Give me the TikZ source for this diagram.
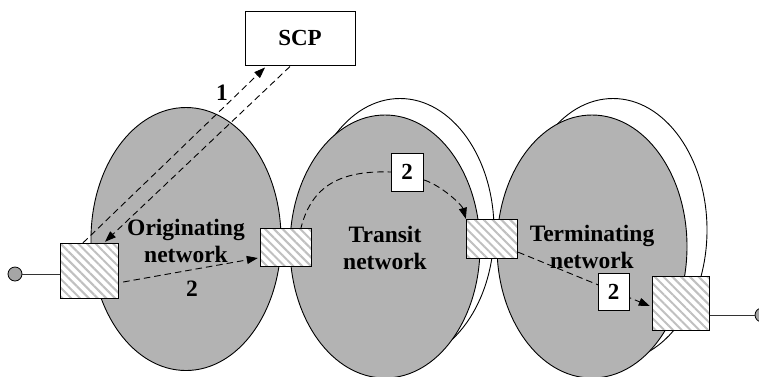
\documentclass[tikz,border=0pt]{standalone}
\usepackage{fontspec}
\setmainfont{Liberation Serif}
\usetikzlibrary{shapes.geometric,arrows.meta,patterns.meta,calc}
\definecolor{ellgray}{RGB}{179,179,179}
\definecolor{hatchgray}{RGB}{192,192,192}
\definecolor{dotgray}{RGB}{165,165,165}
\begin{document}
\begin{tikzpicture}[x=1pt,y=-1pt,
  net/.style={ellipse, draw=black, line width=0.9pt, fill=ellgray, minimum width=190pt, minimum height=263pt, inner sep=0pt},
  netback/.style={ellipse, draw=black, line width=0.9pt, fill=white, minimum width=188pt, minimum height=263pt, inner sep=0pt},
  gateway/.style={draw=black, line width=1pt, preaction={fill=white}, pattern={Lines[angle=-45,distance=6.2pt,line width=2pt]}, pattern color=hatchgray, inner sep=0pt},
  labelbox/.style={draw=black, line width=0.8pt, fill=white, minimum width=32pt, minimum height=38pt, inner sep=0pt, font=\fontsize{23}{27}\selectfont\bfseries},
  txt/.style={font=\fontsize{23.5}{27}\selectfont\bfseries, align=center, inner sep=0pt},
  msgline/.style={dash pattern=on 6.5pt off 4pt, line width=0.9pt},
  msg/.style={msgline, -{Triangle[length=11pt,width=8pt]}},
  endpoint/.style={circle, draw=black, line width=0.8pt, fill=dotgray, minimum size=14pt, inner sep=0pt},
  wire/.style={draw=black!80, line width=1pt}]
\useasboundingbox (0,0) rectangle (759,376);
% networks
\node[netback] (trb) at (400,230) {};
\node[netback] (teb) at (613,230) {};
\node[net] (orig) at (186,239) {};
\node[net] (tran) at (385,246.5) {};
\node[net] (term) at (592,246.5) {};
% boxes (positions needed for connectors)
\node[draw=black, line width=1pt, fill=white, minimum width=110pt, minimum height=54pt, inner sep=0pt, font=\fontsize{23}{27}\selectfont\bfseries] (scp) at (300,38) {SCP};
\path (89,270.5) node[minimum width=58pt, minimum height=55pt, inner sep=0pt] (b1) {}
      (285.5,247) node[minimum width=51pt, minimum height=38pt, inner sep=0pt] (b2) {}
      (491.5,238.5) node[minimum width=51pt, minimum height=39pt, inner sep=0pt] (b3) {}
      (680.5,303) node[minimum width=57pt, minimum height=54pt, inner sep=0pt] (b4) {}
      (407,172) node[minimum width=32pt, minimum height=38pt, inner sep=0pt] (t2) {}
      (613.5,291.5) node[minimum width=31pt, minimum height=37pt, inner sep=0pt] (t3) {};
% connectors
\draw[msg] ($(b1.north)+(-6,0)$) -- ($(scp.south)+(-35,2)$);
\draw[msg] ($(scp.south)+(-10,1)$) -- ($(b1.north)+(16,-1)$);
\draw[msg] ($(b1.east)+(5,11.5)$) -- ($(b2.west)+(-2,11)$);
\draw[msgline] ($(b2.north)+(15,2)$) .. controls (310,190) and (335,170) .. (t2.west);
\draw[msg] ($(t2.east)+(1,8)$) .. controls (442,186) and (462,205) .. (b3.north west);
\draw[msg] ($(b3.south east)+(1,-6)$) -- ($(b4.west)+(-2,3)$);
% endpoints
\node[endpoint] (c1) at (15,274) {};
\node[endpoint] (c2) at (762,315) {};
\draw[wire] (c1.east) -- (c1 -| b1.west);
\draw[wire] (c2.west) -- (c2 -| b4.east);
% gateways
\node[gateway, minimum width=58pt, minimum height=55pt] at (b1) {};
\node[gateway, minimum width=51pt, minimum height=38pt] at (b2) {};
\node[gateway, minimum width=51pt, minimum height=39pt] at (b3) {};
\node[gateway, minimum width=57pt, minimum height=54pt] at (b4) {};
% texts
\node[txt] (l1) at (222,93) {1};
\node[txt] (l2) at (192,289) {2};
\node[labelbox] (t2b) at (t2) {2};
\node[labelbox, minimum width=31pt, minimum height=37pt] (t3b) at (t3) {2};
\node[txt] (origt) at (186,241) {Originating\\network};
\node[txt] (trant) at (385,248) {Transit\\network};
\node[txt] (termt) at (592,247) {Terminating\\network};
\end{tikzpicture}
\end{document}
